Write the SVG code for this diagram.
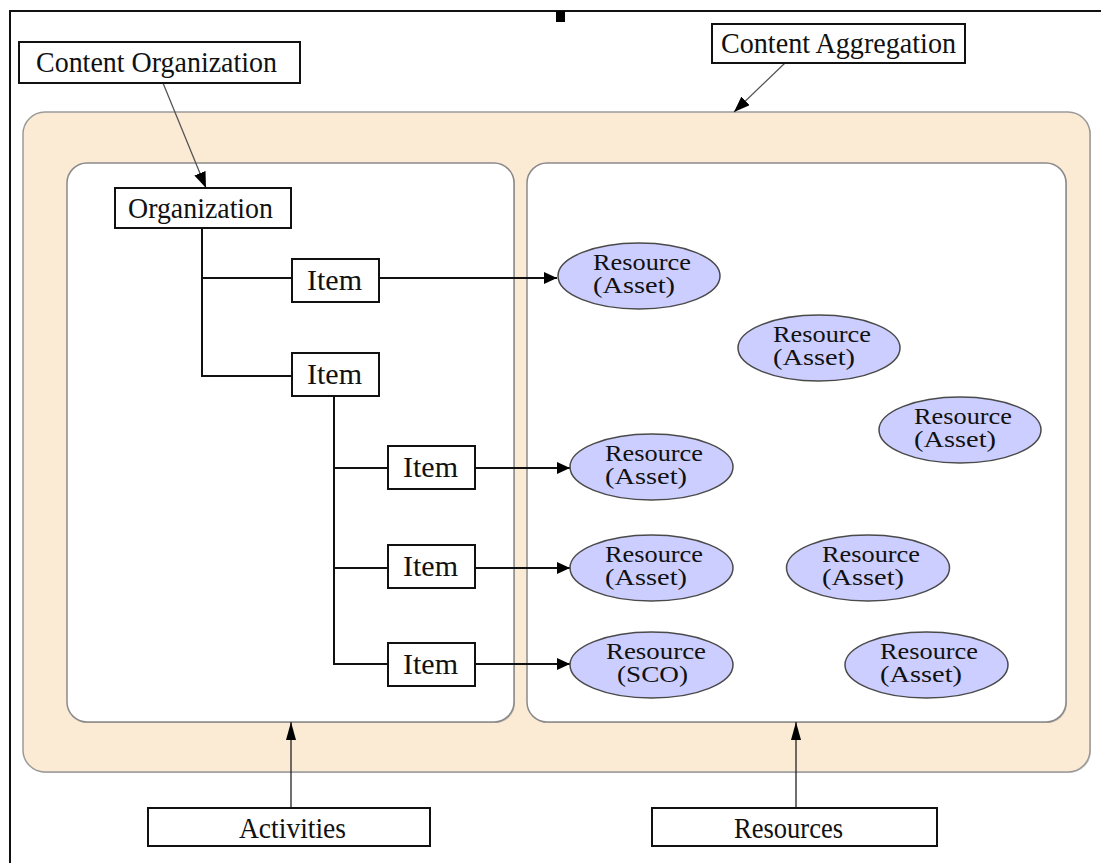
<svg xmlns="http://www.w3.org/2000/svg" width="1101" height="863" viewBox="0 0 1101 863">
<defs>
<style>
.box{fill:#fff;stroke:#111;stroke-width:2}
.lbl{font-family:"Liberation Serif","Times New Roman",serif;font-size:29px;fill:#111}
.res{fill:#ccceff;stroke:#4a4a4a;stroke-width:1.5}
.rt{font-family:"Liberation Serif","Times New Roman",serif;font-size:23px;fill:#111}
.ln{fill:none;stroke:#111;stroke-width:2}
.thin{fill:none;stroke:#555;stroke-width:1.3}
</style>
<marker id="ah" markerUnits="userSpaceOnUse" markerWidth="14" markerHeight="12" refX="13" refY="6" orient="auto"><path d="M0,0 L13,6 L0,12 z" fill="#000"/></marker>
<marker id="av" markerUnits="userSpaceOnUse" markerWidth="18" markerHeight="10" refX="18" refY="5" orient="auto"><path d="M0,0 L18,5 L0,10 z" fill="#000"/></marker>
<marker id="ac" markerUnits="userSpaceOnUse" markerWidth="16" markerHeight="12" refX="16" refY="6" orient="auto"><path d="M0,0 L16,6 L0,12 z" fill="#000"/></marker>
</defs>
<rect width="1101" height="863" fill="#fff"/>
<path d="M10,863 V11 H1101" fill="none" stroke="#111" stroke-width="2"/>
<rect x="556" y="11" width="9" height="11" fill="#000"/>

<g id="content-aggregation-area">
<rect x="24" y="113" width="1067" height="660" rx="22" fill="#8c8c8c" opacity="0.5"/>
<rect x="23" y="112" width="1067" height="660" rx="22" fill="#fcebd4" stroke="#9a9a9a" stroke-width="1.5"/>
</g>
<g id="activities-area">
<rect x="68" y="164" width="447" height="559" rx="20" fill="#8c8c8c" opacity="0.6"/>
<rect x="67" y="163" width="447" height="559" rx="20" fill="#fff" stroke="#8a8a8a" stroke-width="1.5"/>
</g>
<g id="resources-area">
<rect x="528" y="164" width="539" height="559" rx="20" fill="#8c8c8c" opacity="0.6"/>
<rect x="527" y="163" width="539" height="559" rx="20" fill="#fff" stroke="#8a8a8a" stroke-width="1.5"/>
</g>

<g id="connectors">
<line class="thin" x1="163" y1="83" x2="206" y2="188" marker-end="url(#ac)"/>
<line class="thin" x1="785" y1="63" x2="734" y2="112" marker-end="url(#ac)"/>
<path class="ln" d="M202,228 V376 H292 M202,278 H292"/>
<path class="ln" d="M334,396 V664 H388 M334,468 H388 M334,568 H388"/>
<line class="ln" x1="379" y1="278" x2="557" y2="278" marker-end="url(#ah)"/>
<line class="ln" x1="475" y1="468" x2="570" y2="468" marker-end="url(#ah)"/>
<line class="ln" x1="475" y1="568" x2="570" y2="568" marker-end="url(#ah)"/>
<line class="ln" x1="475" y1="664" x2="570" y2="664" marker-end="url(#ah)"/>
<line x1="291" y1="808" x2="291" y2="722" stroke="#222" stroke-width="1.3" marker-end="url(#av)"/>
<line x1="796" y1="808" x2="796" y2="722" stroke="#222" stroke-width="1.3" marker-end="url(#av)"/>
</g>

<g id="content-organization"><rect class="box" x="19" y="42" width="281" height="41"/><text class="lbl" x="36" y="72" textLength="241" lengthAdjust="spacingAndGlyphs">Content Organization</text></g>
<g id="content-aggregation"><rect class="box" x="712" y="24" width="253" height="39"/><text class="lbl" x="721" y="53" textLength="235" lengthAdjust="spacingAndGlyphs">Content Aggregation</text></g>
<g id="organization"><rect class="box" x="115" y="188" width="176" height="40"/><text class="lbl" x="128" y="218" textLength="145" lengthAdjust="spacingAndGlyphs">Organization</text></g>
<g id="item1"><rect class="box" x="292" y="259" width="87" height="43"/><text class="lbl" x="307" y="290" textLength="55" lengthAdjust="spacingAndGlyphs">Item</text></g>
<g id="item2"><rect class="box" x="292" y="353" width="87" height="43"/><text class="lbl" x="307" y="384" textLength="55" lengthAdjust="spacingAndGlyphs">Item</text></g>
<g id="item3"><rect class="box" x="388" y="446" width="87" height="43"/><text class="lbl" x="403" y="477" textLength="55" lengthAdjust="spacingAndGlyphs">Item</text></g>
<g id="item4"><rect class="box" x="388" y="545" width="87" height="43"/><text class="lbl" x="403" y="576" textLength="55" lengthAdjust="spacingAndGlyphs">Item</text></g>
<g id="item5"><rect class="box" x="388" y="643" width="87" height="43"/><text class="lbl" x="403" y="674" textLength="55" lengthAdjust="spacingAndGlyphs">Item</text></g>

<g id="res1"><ellipse class="res" cx="639" cy="276" rx="81" ry="33"/><text class="rt" x="593" y="270" textLength="98" lengthAdjust="spacingAndGlyphs">Resource</text><text class="rt" x="593" y="293" textLength="82" lengthAdjust="spacingAndGlyphs">(Asset)</text></g>
<g id="res2"><ellipse class="res" cx="819" cy="348" rx="81" ry="33"/><text class="rt" x="773" y="342" textLength="98" lengthAdjust="spacingAndGlyphs">Resource</text><text class="rt" x="773" y="365" textLength="82" lengthAdjust="spacingAndGlyphs">(Asset)</text></g>
<g id="res3"><ellipse class="res" cx="960" cy="430" rx="81" ry="33"/><text class="rt" x="914" y="424" textLength="98" lengthAdjust="spacingAndGlyphs">Resource</text><text class="rt" x="914" y="447" textLength="82" lengthAdjust="spacingAndGlyphs">(Asset)</text></g>
<g id="res4"><ellipse class="res" cx="651.5" cy="467" rx="81.5" ry="33"/><text class="rt" x="605" y="461" textLength="98" lengthAdjust="spacingAndGlyphs">Resource</text><text class="rt" x="605" y="484" textLength="82" lengthAdjust="spacingAndGlyphs">(Asset)</text></g>
<g id="res5"><ellipse class="res" cx="651.5" cy="568" rx="81.5" ry="33"/><text class="rt" x="605" y="562" textLength="98" lengthAdjust="spacingAndGlyphs">Resource</text><text class="rt" x="605" y="585" textLength="82" lengthAdjust="spacingAndGlyphs">(Asset)</text></g>
<g id="res6"><ellipse class="res" cx="651.5" cy="665" rx="81.5" ry="33"/><text class="rt" x="606" y="659" textLength="100" lengthAdjust="spacingAndGlyphs">Resource</text><text class="rt" x="617" y="682" textLength="71" lengthAdjust="spacingAndGlyphs">(SCO)</text></g>
<g id="res7"><ellipse class="res" cx="868" cy="568" rx="81.5" ry="33"/><text class="rt" x="822" y="562" textLength="98" lengthAdjust="spacingAndGlyphs">Resource</text><text class="rt" x="822" y="585" textLength="82" lengthAdjust="spacingAndGlyphs">(Asset)</text></g>
<g id="res8"><ellipse class="res" cx="926.5" cy="665" rx="81.5" ry="33"/><text class="rt" x="880" y="659" textLength="98" lengthAdjust="spacingAndGlyphs">Resource</text><text class="rt" x="880" y="682" textLength="82" lengthAdjust="spacingAndGlyphs">(Asset)</text></g>

<g id="activities"><rect class="box" x="148" y="808" width="282" height="38"/><text class="lbl" x="239" y="838" textLength="107" lengthAdjust="spacingAndGlyphs">Activities</text></g>
<g id="resources"><rect class="box" x="652" y="808" width="285" height="38"/><text class="lbl" x="734" y="838" textLength="109" lengthAdjust="spacingAndGlyphs">Resources</text></g>
</svg>
